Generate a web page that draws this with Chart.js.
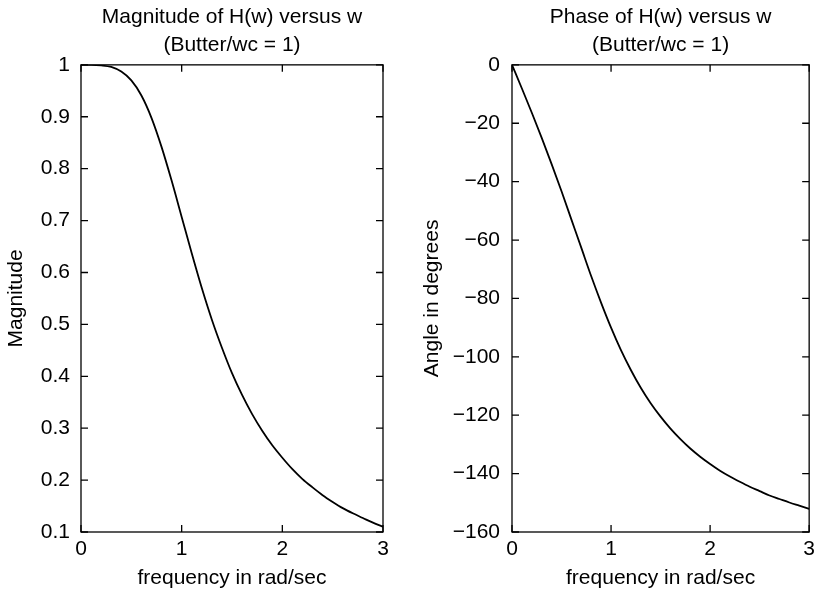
<!DOCTYPE html>
<html>
<head>
<meta charset="utf-8">
<script src="https://cdn.jsdelivr.net/npm/chart.js@4"></script>
<style>
  body { margin: 0; background: #fff; overflow: hidden; }
  canvas { position: absolute; top: 0; }
  #mag { left: 0; }
  #phase { left: 410px; }
</style>
</head>
<body>
<canvas id="mag" width="410" height="593"></canvas>
<canvas id="phase" width="410" height="593"></canvas>
<script>
// frequency samples (rad/sec)
const freq = [0, 0.1, 0.2, 0.3, 0.4, 0.5, 0.6, 0.7, 0.8, 0.9, 1.0,
  1.1, 1.2, 1.3, 1.4, 1.5, 1.6, 1.7, 1.8, 1.9, 2.0,
  2.1, 2.2, 2.3, 2.4, 2.5, 2.6, 2.7, 2.8, 2.9, 3.0];

// values
const magnitude = [1.000, 1.000, 0.999, 0.996, 0.987, 0.970, 0.941, 0.898, 0.842, 0.777, 0.707,
  0.637, 0.570, 0.509, 0.455, 0.406, 0.364, 0.327, 0.295, 0.267, 0.243,
  0.221, 0.202, 0.186, 0.171, 0.158, 0.146, 0.136, 0.127, 0.118, 0.110];

const phase = [0, -8.1, -16.4, -25.0, -34.0, -43.3, -53.0, -62.7, -72.4, -81.5, -90.0,
  -97.7, -104.5, -110.6, -115.9, -120.5, -124.6, -128.2, -131.4, -134.2, -136.7,
  -139.0, -141.0, -142.8, -144.5, -146.0, -147.5, -148.7, -149.9, -151.0, -152.1];

const magTitle = ['Magnitude of H(w) versus w', '(Butter/wc = 1)'];
const phaseTitle = ['Phase of H(w) versus w', '(Butter/wc = 1)'];

const FONT = 'Liberation Sans, Arial, Helvetica, sans-serif';
const f21 = { family: FONT, size: 21 };

// matlab style box with inward ticks on all four sides
const boxTicks = {
  id: 'boxTicks',
  afterDraw(chart) {
    const { ctx, chartArea: a, scales: { x, y } } = chart;
    const len = 7;
    ctx.save();
    ctx.strokeStyle = '#000';
    ctx.lineWidth = 1.3;
    ctx.strokeRect(a.left, a.top, a.right - a.left, a.bottom - a.top);
    ctx.beginPath();
    x.ticks.forEach(t => {
      const px = x.getPixelForValue(t.value);
      ctx.moveTo(px, a.bottom); ctx.lineTo(px, a.bottom - len);
      ctx.moveTo(px, a.top); ctx.lineTo(px, a.top + len);
    });
    y.ticks.forEach(t => {
      const py = y.getPixelForValue(t.value);
      ctx.moveTo(a.left, py); ctx.lineTo(a.left + len, py);
      ctx.moveTo(a.right, py); ctx.lineTo(a.right - len, py);
    });
    ctx.stroke();
    ctx.restore();
  }
};

function makeChart(canvas, values, title, yTitle, yOpts, yWidth, rightPad, yTitlePad) {
  return new Chart(canvas, {
    type: 'line',
    data: {
      labels: freq,
      datasets: [{
        data: freq.map((w, i) => ({ x: w, y: values[i] })),
        borderColor: '#000',
        borderWidth: 1.8,
        pointRadius: 0,
        cubicInterpolationMode: 'monotone',
        fill: false
      }]
    },
    options: {
      responsive: false,
      animation: false,
      devicePixelRatio: 1,
      layout: { padding: { left: 0, right: rightPad, top: 0, bottom: 0 } },
      plugins: {
        legend: { display: false },
        tooltip: { enabled: false },
        title: {
          display: true,
          fullSize: false,
          text: title,
          color: '#000',
          font: { family: FONT, size: 21, weight: 'normal', lineHeight: 1.33 },
          padding: { top: 3, bottom: 6 }
        }
      },
      scales: {
        x: {
          type: 'linear',
          min: 0,
          max: 3,
          ticks: { stepSize: 1, padding: 5, color: '#000', font: f21, maxRotation: 0 },
          grid: { display: false, drawTicks: false },
          border: { display: false },
          title: { display: true, text: 'frequency in rad/sec', color: '#000', font: f21, padding: { top: 0, bottom: 2 } },
          afterFit(s) { s.height = 61; }
        },
        y: Object.assign({
          type: 'linear',
          grid: { display: false, drawTicks: false },
          border: { display: false },
          title: { display: true, text: yTitle, color: '#000', font: f21, padding: { top: yTitlePad, bottom: 0 } },
          afterFit(s) { s.width = yWidth; }
        }, yOpts)
      }
    },
    plugins: [boxTicks]
  });
}

makeChart(document.getElementById('mag'), magnitude, magTitle, 'Magnitude', {
  min: 0.1, max: 1,
  ticks: {
    stepSize: 0.1, padding: 11, color: '#000', font: f21,
    callback: v => String(+v.toFixed(1))
  }
}, 81, 27, 4);

makeChart(document.getElementById('phase'), phase, phaseTitle, 'Angle in degrees', {
  min: -160, max: 0,
  ticks: {
    stepSize: 20, padding: 12, color: '#000', font: f21,
    callback: v => v < 0 ? '\u2212' + Math.abs(v) : String(v)
  }
}, 102, 6, 10);
</script>
</body>
</html>
